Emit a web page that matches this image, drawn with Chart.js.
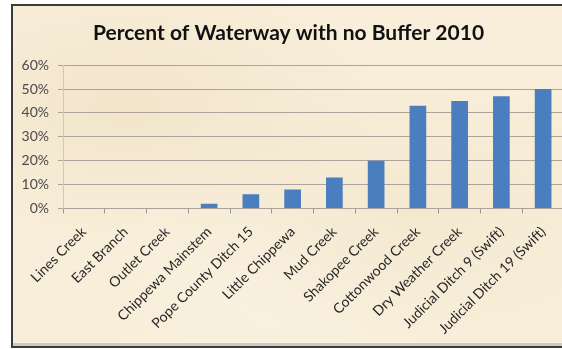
<!DOCTYPE html>
<html>
<head>
<meta charset="utf-8">
<script src="https://cdn.jsdelivr.net/npm/chart.js@4/dist/chart.umd.min.js"></script>
<style>
    html, body { margin: 0; padding: 0; background: #fff; overflow: hidden; width: 562px; height: 349px; }
    .frame {
        position: absolute; left: 11px; top: 4px;
        width: 570px; height: 340px;
        border: 2px solid #3b3b3b;
        background-color: #f8eed9;
        background-image:
            radial-gradient(ellipse at 20% 30%, rgba(236, 220, 190, 0.5), transparent 40%),
            radial-gradient(ellipse at 70% 60%, rgba(240, 226, 198, 0.5), transparent 45%),
            radial-gradient(ellipse at 45% 85%, rgba(250, 242, 228, 0.6), transparent 40%);
        box-shadow: inset 0 -3px 0 #cfc9c0;
    }
    canvas { display: block; }
</style>
</head>
<body>
<div class="frame">
    <canvas id="chart" width="558" height="340"></canvas>
</div>
<script>
// Data
const categories = ['Lines Creek', 'East Branch', 'Outlet Creek', 'Chippewa Mainstem', 'Pope County Ditch 15',
    'Little Chippewa', 'Mud Creek', 'Shakopee Creek', 'Cottonwood Creek', 'Dry Weather Creek',
    'Judicial Ditch 9 (Swift)', 'Judicial Ditch 19 (Swift)'];
const noBuffer = [0, 0, 0, 0.02, 0.06, 0.08, 0.13, 0.20, 0.43, 0.45, 0.47, 0.50];
const yTicks = [0, 0.1, 0.2, 0.3, 0.4, 0.5, 0.6];

const ctx = document.getElementById('chart').getContext('2d');

new Chart(ctx, {
    type: 'bar',
    data: {
        labels: categories,
        datasets: [{
            data: noBuffer,
            backgroundColor: '#4a7ebf',
            borderWidth: 0,
            categoryPercentage: 1,
            barPercentage: 0.4
        }]
    },
    options: {
        responsive: false,
        animation: false,
        layout: { padding: { left: 0, right: 7, top: 0, bottom: 0 } },
        plugins: {
            legend: { display: false },
            tooltip: { enabled: false },
            title: {
                display: true,
                text: 'Percent of Waterway with no Buffer 2010',
                color: '#111',
                font: { family: 'Lato', size: 21, weight: 'bold' },
                padding: { top: 15, bottom: 19 }
            }
        },
        scales: {
            x: {
                grid: { drawOnChartArea: false, drawTicks: true, tickLength: 5, color: '#9a958c' },
                border: { display: false },
                ticks: {
                    color: '#262626',
                    font: { family: 'Lato', size: 14 },
                    minRotation: 45,
                    maxRotation: 45,
                    autoSkip: false,
                    padding: 10
                },
                afterFit: (scale) => { scale.height = 137.5; }
            },
            y: {
                min: 0,
                max: 0.6,
                afterBuildTicks: (scale) => { scale.ticks = yTicks.map(v => ({ value: v })); },
                grid: { color: '#aaa49a', tickLength: 5 },
                border: { display: true, color: '#cfc8bc' },
                ticks: {
                    color: '#4a4a4a',
                    font: { family: 'Lato', size: 14 },
                    padding: 9,
                    callback: (v) => Math.round(v * 100) + '%'
                },
                afterFit: (scale) => { scale.width = 50; }
            }
        }
    }
});
</script>
</body>
</html>
